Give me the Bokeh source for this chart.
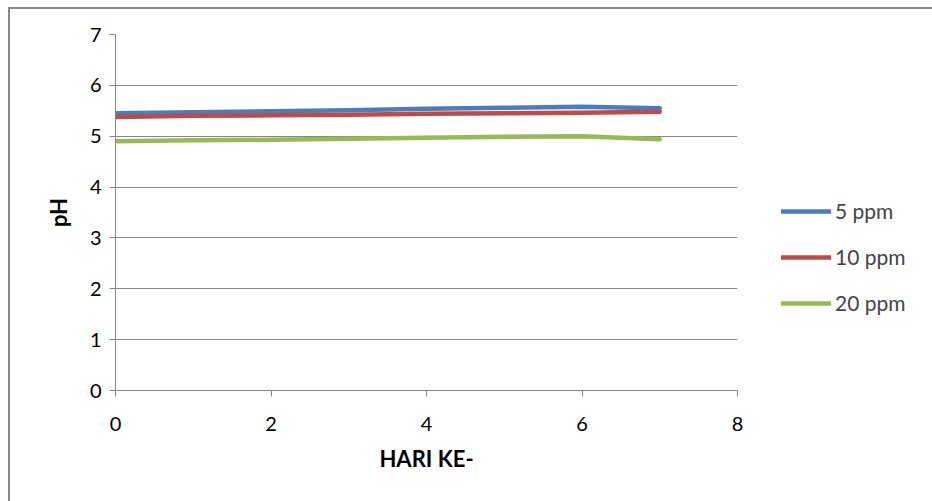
from bokeh.plotting import figure
from bokeh.models import Range1d, FixedTicker, Legend, LegendItem
from bokeh.embed import file_html
from bokeh.resources import INLINE

days = [0, 1, 2, 3, 4, 5, 6, 7]
ph_5ppm = [5.45, 5.47, 5.49, 5.51, 5.54, 5.56, 5.58, 5.55]
ph_10ppm = [5.38, 5.40, 5.41, 5.42, 5.44, 5.45, 5.46, 5.48]
ph_20ppm = [4.90, 4.92, 4.93, 4.95, 4.97, 4.99, 5.00, 4.94]
series_names = ["5 ppm", "10 ppm", "20 ppm"]
x_ticks = [0, 2, 4, 6, 8]
y_ticks = [0, 1, 2, 3, 4, 5, 6, 7]

FONT = "Lato"
GRAY = "#868686"

p = figure(frame_width=622, frame_height=356, output_backend="svg", toolbar_location=None,
           x_range=Range1d(0, 8), y_range=Range1d(0, 7),
           min_border_left=105, min_border_right=10, min_border_top=25,
           min_border_bottom=111,
           styles={"margin-left": "8px", "margin-top": "7px",
                   "border-left": "2px solid #888888",
                   "border-top": "2px solid #888888"})
p.outline_line_color = None
p.xgrid.grid_line_color = None
p.ygrid.grid_line_color = GRAY
p.ygrid.grid_line_width = 1

for ax in (p.xaxis[0], p.yaxis[0]):
    ax.axis_line_color = GRAY
    ax.major_tick_line_color = GRAY
    ax.minor_tick_line_color = None
    ax.major_tick_in = 0
    ax.major_tick_out = 6
    ax.major_label_text_font = FONT
    ax.major_label_text_font_size = "20px"
    ax.major_label_text_color = "#000000"
    ax.axis_label_text_font = FONT
    ax.axis_label_text_font_size = "22px"
    ax.axis_label_text_font_style = "bold"
    ax.axis_label_text_color = "#000000"

p.xaxis.ticker = FixedTicker(ticks=x_ticks)
p.yaxis.ticker = FixedTicker(ticks=y_ticks)
p.xaxis.axis_label = "HARI KE-"
p.yaxis.axis_label = "pH"
p.xaxis.major_label_standoff = 20
p.xaxis.axis_label_standoff = 11
p.yaxis.major_label_standoff = 8
p.yaxis.axis_label_standoff = 15

colors = ["#4A7EBB", "#BE4B48", "#98B954"]
renderers = []
for ys, c in zip([ph_5ppm, ph_10ppm, ph_20ppm], colors):
    r = p.line(days, ys, line_color=c, line_width=4.5, line_cap="round", line_join="round")
    renderers.append(r)

legend = Legend(items=[LegendItem(label=n, renderers=[r]) for n, r in zip(series_names, renderers)],
                location=(44, 75), orientation="vertical",
                glyph_width=50, glyph_height=20, spacing=21, padding=0, margin=0,
                label_standoff=4, label_text_font=FONT, label_text_font_size="21px",
                border_line_color=None, background_fill_alpha=0)
p.add_layout(legend, "right")

open("out.html", "w").write(file_html(p, INLINE))
